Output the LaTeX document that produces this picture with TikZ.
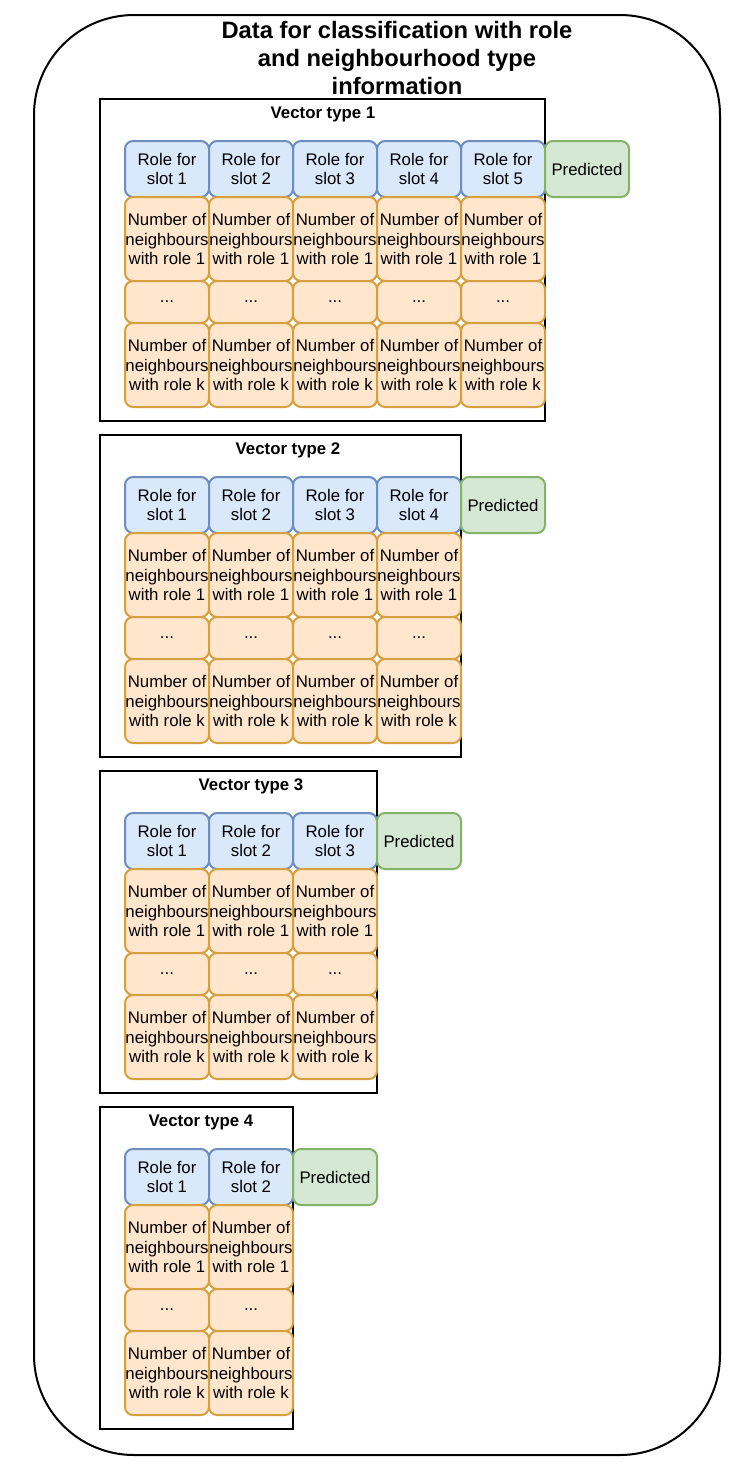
\documentclass[tikz,border=0pt]{standalone}
\usepackage{fontspec}
\setmainfont{Liberation Sans}
\usetikzlibrary{positioning}
\definecolor{roleFill}{HTML}{DAE8FC}
\definecolor{roleLine}{HTML}{6C8EBF}
\definecolor{cntFill}{HTML}{FFE6CC}
\definecolor{cntLine}{HTML}{D6A040}
\definecolor{predFill}{HTML}{D5E8D4}
\definecolor{predLine}{HTML}{82B366}
\tikzstyle{cell}=[draw, line width=1.5pt, rounded corners=6pt, minimum width=63pt, inner sep=0pt, outer sep=0pt, align=center, anchor=north west, font=\fontsize{12.6}{14.7}\selectfont]
\tikzstyle{role}=[cell, fill=roleFill, draw=roleLine, minimum height=42pt]
\tikzstyle{cnt}=[cell, fill=cntFill, draw=cntLine, minimum height=63pt]
\tikzstyle{etcbox}=[cell, fill=cntFill, draw=cntLine, minimum height=31.5pt]
\tikzstyle{pred}=[cell, fill=predFill, draw=predLine, minimum height=42pt]
\tikzstyle{vbox}=[draw, line width=1.5pt]
\tikzstyle{vtitle}=[font=\bfseries\fontsize{12.6}{14.7}\selectfont]
\tikzstyle{outerbox}=[draw, line width=1.5pt, rounded corners=75pt]

\begin{document}
\begin{tikzpicture}[x=0.75pt, y=-0.75pt]
\useasboundingbox (0,0) rectangle (744,1468);

\draw[outerbox] (34,15) rectangle (720,1455);
\node[align=center, font=\bfseries\fontsize{17.8}{21}\selectfont] (title) at (397,58)
  {Data for classification with role\\and neighbourhood type\\information};

% one block per vector type
\foreach \b/\n/\tx in {1/5/323, 2/4/288, 3/3/251, 4/2/201} {
  \pgfmathsetmacro\t{99+336*(\b-1)}
  \draw[vbox] (100,\t) rectangle ({125+84*\n},\t+322);
  \node[vtitle] (vt\b) at (\tx,\t+15) {Vector type \b};
  \foreach \c in {1,...,\n} {
    \node[role] (r\b\c) at ({125+84*(\c-1)},\t+42) {Role for\\slot \c};
    \node[cnt, below=0pt of r\b\c] (n\b\c) {Number of\\neighbours\\with role 1};
    \node[etcbox, below=0pt of n\b\c] (d\b\c) {...};
    \node[cnt, below=0pt of d\b\c] (k\b\c) {Number of\\neighbours\\with role k};
  }
  \node[pred, right=0pt of r\b\n] (p\b) {Predicted};
}

\end{tikzpicture}
\end{document}
